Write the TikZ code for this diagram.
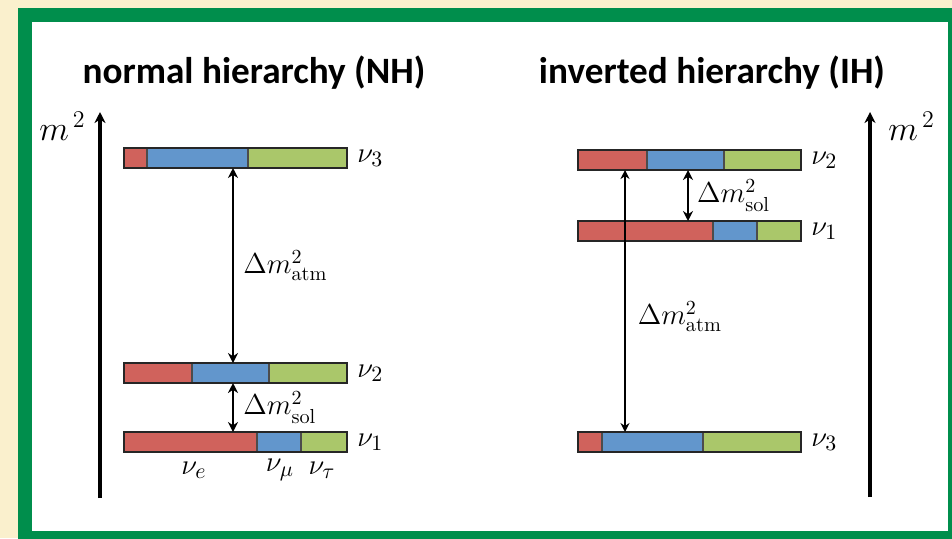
\documentclass[tikz,border=0pt]{standalone}
\usepackage{amsmath}
\usepackage{fontspec}
\usetikzlibrary{arrows.meta,positioning}
\newfontfamily\titlefont{Carlito}
\definecolor{cream}{RGB}{250,240,205}
\definecolor{framegreen}{RGB}{0,142,76}
\definecolor{nured}{RGB}{208,98,92}
\definecolor{nublue}{RGB}{98,150,204}
\definecolor{nugreen}{RGB}{170,199,106}
% one mass level: name, left x, top y, red|blue seam, blue|green seam
\newcommand{\levelbar}[5]{%
  \fill[nured] (#2,#3) rectangle (#4,#3+20);
  \fill[nublue] (#4,#3) rectangle (#5,#3+20);
  \fill[nugreen] (#5,#3) rectangle (#2+223,#3+20);
  \draw[seam] (#4,#3) -- (#4,#3+20) (#5,#3) -- (#5,#3+20);
  \node[massbar] (#1) at (#2+111.5,#3+10) {};}

\begin{document}
\begin{tikzpicture}[x=0.5pt, y=-0.5pt,
  massbar/.style={draw=black!85, line width=0.7pt, minimum width=111.5pt,
    minimum height=10pt, inner sep=0pt, outer sep=0pt},
  seam/.style={draw=black!70, line width=0.6pt},
  heading/.style={font=\titlefont\bfseries\fontsize{18.6}{22}\selectfont,
    anchor=base},
  nulab/.style={font=\fontsize{15}{18}\selectfont, inner sep=0pt},
  dmlab/.style={font=\fontsize{14.5}{17}\selectfont, inner sep=0pt},
  masslab/.style={font=\fontsize{17}{20}\selectfont, inner sep=0pt},
  splitting/.style={{Stealth[length=5pt,width=5pt]}-{Stealth[length=5pt,width=5pt]},
    line width=1.4pt},
  massaxis/.style={-{Stealth[length=5.5pt,width=5.5pt]}, line width=1.6pt}]
\useasboundingbox (0,0) rectangle (952,538);
\clip (0,0) rectangle (952,538);
% frame
\fill[cream] (0,0) rectangle (952,538);
\fill[framegreen] (18,8) rectangle (962,548);
\fill[white] (32,22) rectangle (948,531);

% normal hierarchy
\node[heading] (nhtitle) at (254,83) {normal hierarchy (NH)};
\coordinate (nhlow) at (100,498);
\coordinate (nhtop) at (100,112);
\draw[massaxis] (nhlow) -- (nhtop);
\node[masslab, below left=0pt and 7pt of nhtop] (nhm) {$m^{\,2}$};
\levelbar{nh3}{124}{148}{147}{248}
\levelbar{nh2}{124}{363}{192}{269}
\levelbar{nh1}{124}{432}{257}{301}
\node[nulab, right=5pt of nh3] (nhn3) {$\nu_3$};
\node[nulab, right=5pt of nh2] (nhn2) {$\nu_2$};
\node[nulab, right=5pt of nh1] (nhn1) {$\nu_1$};
\node[nulab] (nue) at (194,470) {$\nu_e$};
\node[nulab] (num) at (280,470) {$\nu_\mu$};
\node[nulab] (nut) at (322,470) {$\nu_\tau$};
\coordinate (nhx) at (233,0);
\draw[splitting] (nh3.south -| nhx) -- (nh2.north -| nhx)
  node[midway, right=4.5pt, dmlab] {$\Delta m^2_{\mathrm{atm}}$};
\draw[splitting] (nh2.south -| nhx) -- (nh1.north -| nhx)
  node[midway, right=4.5pt, dmlab] {$\Delta m^2_{\mathrm{sol}}$};

% inverted hierarchy
\node[heading] (ihtitle) at (712,83) {inverted hierarchy (IH)};
\coordinate (ihlow) at (870,497);
\coordinate (ihtop) at (870,112);
\draw[massaxis] (ihlow) -- (ihtop);
\node[masslab, below right=0pt and 9pt of ihtop] (ihm) {$m^{\,2}$};
\levelbar{ih2}{578}{150}{647}{724}
\levelbar{ih1}{578}{221}{713}{757}
\levelbar{ih3}{578}{432}{602}{703}
\node[nulab, right=5pt of ih2] (ihn2) {$\nu_2$};
\node[nulab, right=5pt of ih1] (ihn1) {$\nu_1$};
\node[nulab, right=5pt of ih3] (ihn3) {$\nu_3$};
\coordinate (ihsx) at (688,0);
\coordinate (ihax) at (625,0);
\draw[splitting, line width=1.1pt] (ih2.south -| ihsx) -- (ih1.north -| ihsx)
  node[midway, right=4pt, dmlab] {$\Delta m^2_{\mathrm{sol}}$};
\draw[{Stealth[length=4.5pt,width=4.5pt]}-{Stealth[length=4.5pt,width=4.5pt]},
  line width=0.8pt] (ih2.south -| ihax) -- (ih3.north -| ihax)
  node[pos=0.56, right=6pt, dmlab] {$\Delta m^2_{\mathrm{atm}}$};
\end{tikzpicture}
\end{document}
